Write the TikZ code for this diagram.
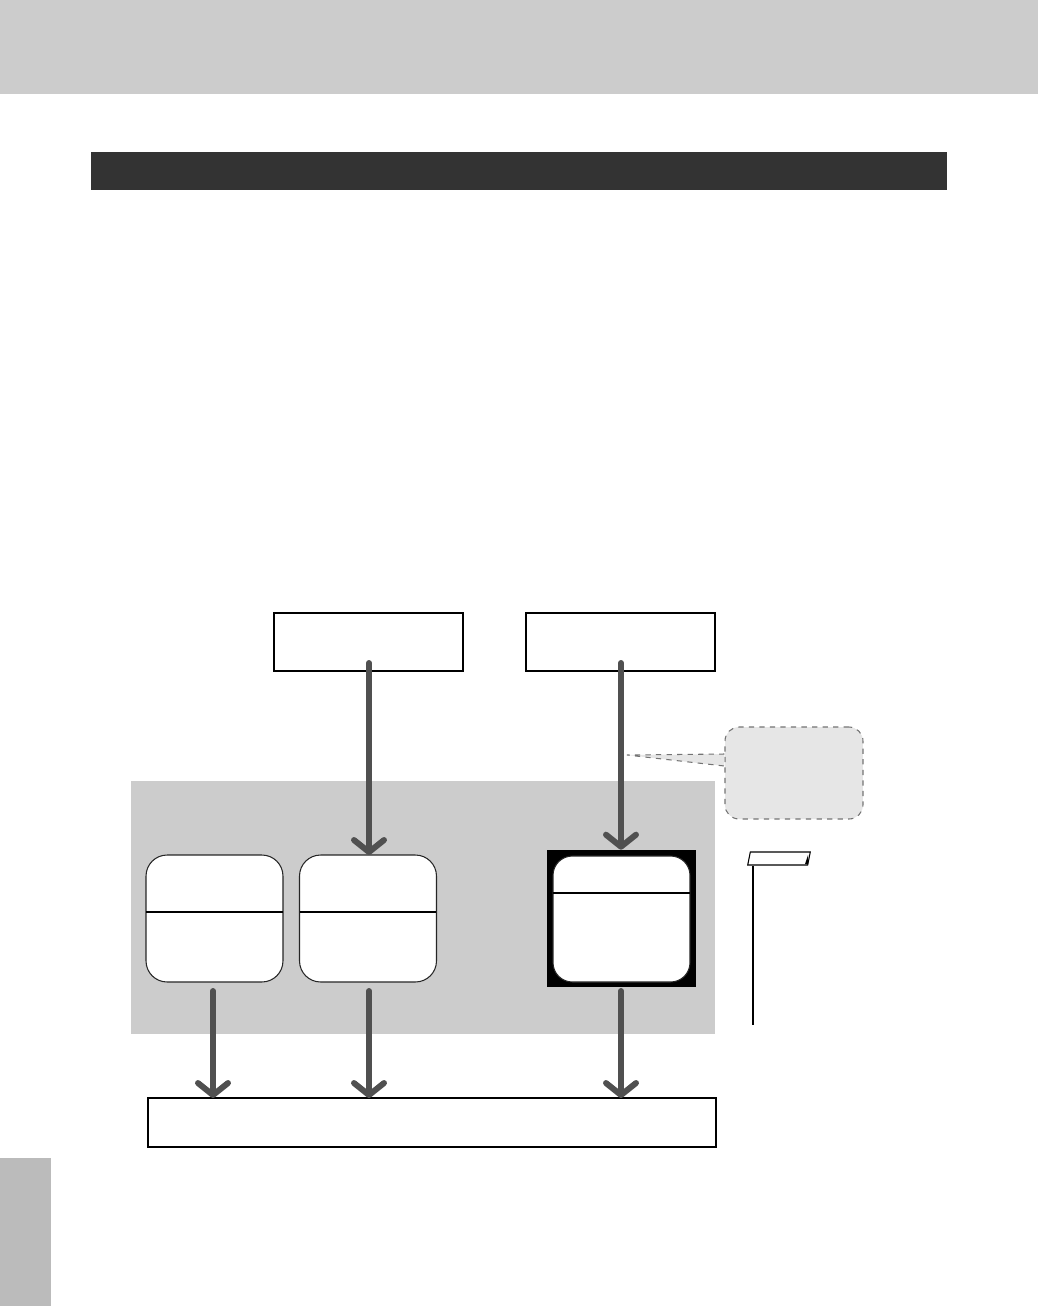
\documentclass[tikz,border=0pt]{standalone}
\usepackage{xcolor}
\usepackage{tikz}
\usetikzlibrary{positioning,arrows.meta}
\definecolor{bandgray}{HTML}{CCCCCC}
\definecolor{bargray}{HTML}{333333}
\definecolor{tabgray}{HTML}{BBBBBB}
\definecolor{arrowgray}{HTML}{505050}
\definecolor{notegray}{HTML}{E6E6E6}

\begin{document}
\begin{tikzpicture}[
  x=0.02cm, y=-0.02cm,
  sbox/.style={draw, line width=0.8pt, fill=white, inner sep=0pt, outer sep=0pt},
  rbox/.style={draw=black!85, line width=0.6pt, fill=white, rounded corners=12pt,
              minimum width=2.74cm, minimum height=2.54cm, inner sep=0pt, outer sep=0pt},
  divline/.style={line width=0.8pt},
  arw/.style={draw=arrowgray, line width=3.4pt, line cap=round,
              -{Straight Barb[length=2.4mm, width=6mm, round]}},
  note/.style={draw=black!55, dashed, line width=0.6pt, fill=notegray}
]
\useasboundingbox (0,0) rectangle (1038,1306);
% page decorations
\fill[bandgray] (0,0) rectangle (1038,94);
\fill[bargray] (91,152) rectangle (947,190);
\fill[tabgray] (0,1158) rectangle (51,1306);

% sources
\node[sbox, minimum width=3.78cm, minimum height=1.16cm] (src1) at (368.5,642) {};
\node[sbox, minimum width=3.78cm, minimum height=1.16cm] (src2) at (620.5,642) {};

% panel with the three units
\fill[bandgray] (131,781) rectangle (715,1034);
\node[rbox] (unitA) at (214.5,918.5) {};
\node[rbox] (unitB) at (368,918.5) {};
\node[fill=black, minimum width=2.98cm, minimum height=2.74cm, inner sep=0pt] (frameC) at (621.5,918.5) {};
\node[rbox, minimum height=2.52cm, rounded corners=11pt] (unitC) at (621.5,919) {};
\draw[divline] (unitA.west |- 0,912) -- (unitA.east |- 0,912);
\draw[divline] (unitB.west |- 0,912) -- (unitB.east |- 0,912);
\draw[divline] (unitC.west |- 0,893) -- (unitC.east |- 0,893);

% common output
\node[sbox, minimum width=11.36cm, minimum height=0.98cm] (out) at (432,1122.5) {};

% connectors
\coordinate (s1) at (369,663);
\coordinate (s2) at (621,663);
\coordinate (a1) at (213,991);
\coordinate (b1) at (369,991);
\coordinate (c1) at (621,991);
\draw[arw] (s1) -- (s1 |- unitB.north);
\draw[arw] (s2) -- (s2 |- frameC.north);
\draw[arw] (a1) -- (a1 |- out.north);
\draw[arw] (b1) -- (b1 |- out.north);
\draw[arw] (c1) -- (c1 |- out.north);

% callout
\coordinate (tip) at (627,755);
\node[note, minimum width=2.76cm, minimum height=1.84cm, rounded corners=8pt, inner sep=0pt] (call) at (794,773) {};
\fill[notegray] (tip) -- (call.west |- 0,754) -- (call.west |- 0,766) -- cycle;
\draw[draw=black!55, dashed, line width=0.6pt] (call.west |- 0,754) -- (tip) -- (call.west |- 0,766);

% side note tab
\node[draw, line width=0.6pt, fill=white, inner sep=0pt, minimum width=1.2cm, minimum height=0.26cm,
      xslant=0.2] (tab) at (779,858.5) {};
\fill (808,855) -- (808,864) -- (805,864) -- cycle;
\coordinate (tabend) at (753,1025);
\draw[line width=0.6pt] (tab.south west -| tabend) -- (tabend);
\end{tikzpicture}
\end{document}
